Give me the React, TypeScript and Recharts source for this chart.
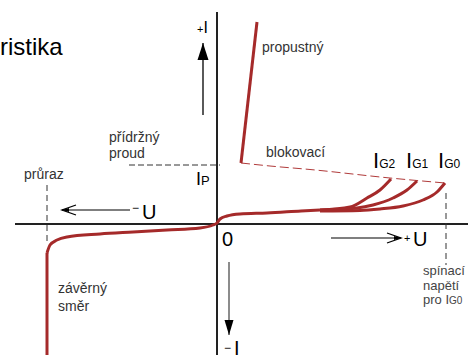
import React from "react";
import { Line, LineChart, XAxis, YAxis } from "recharts";

// U / I in arbitrary units of the schematic (thyristor V-A characteristic)
type Pt = { u: number; i: number };

const U_DOMAIN: [number, number] = [-108.5, 125.5];
const I_DOMAIN: [number, number] = [-65.5, 112];

const reverseBreakdown: Pt[] = [
  { u: -85, i: -66 },
  { u: -85, i: -14.5 },
];

const leakage: Pt[] = [
  { u: -85, i: -14.5 },
  { u: -83.5, i: -10.5 },
  { u: -80, i: -8 },
  { u: -75, i: -6.5 },
  { u: -58.5, i: -5 },
  { u: -42, i: -4 },
  { u: -25, i: -3 },
  { u: -8.5, i: -2 },
  { u: -2, i: -0.5 },
  { u: 0, i: 0.5 },
  { u: 1.5, i: 2.5 },
  { u: 5, i: 4 },
  { u: 11.5, i: 5 },
  { u: 25, i: 5.5 },
  { u: 42, i: 6.5 },
  { u: 51.5, i: 7 },
];

const gateIG2: Pt[] = [
  { u: 51.5, i: 7 },
  { u: 66.5, i: 8.5 },
  { u: 75, i: 13 },
  { u: 81.5, i: 17 },
  { u: 87, i: 22.5 },
];

const gateIG1: Pt[] = [
  { u: 51.5, i: 7 },
  { u: 70, i: 8 },
  { u: 78, i: 9.5 },
  { u: 88, i: 13 },
  { u: 95, i: 17 },
  { u: 100, i: 21.5 },
];

const gateIG0: Pt[] = [
  { u: 51.5, i: 6.5 },
  { u: 71.5, i: 6.75 },
  { u: 81.5, i: 7.5 },
  { u: 93, i: 9 },
  { u: 103, i: 12 },
  { u: 110, i: 16 },
  { u: 114, i: 20.5 },
];

const conducting: Pt[] = [
  { u: 12, i: 30.5 },
  { u: 20, i: 101 },
];

const blockingLimit: Pt[] = [
  { u: 12, i: 30.5 },
  { u: 26.5, i: 29 },
  { u: 46.5, i: 27.25 },
  { u: 86.5, i: 23 },
  { u: 114, i: 20.5 },
];

const holdingCurrent: Pt[] = [
  { u: -44, i: 29.5 },
  { u: 1.5, i: 29.5 },
];

const breakdownMark: Pt[] = [
  { u: -85, i: 19.5 },
  { u: -85, i: -10.5 },
];

const switchingMark: Pt[] = [
  { u: 114.5, i: 15.5 },
  { u: 114.5, i: -20.5 },
];

const axisU: Pt[] = [
  { u: -101, i: 0 },
  { u: 125.5, i: 0 },
];

const axisI: Pt[] = [
  { u: 0, i: -66 },
  { u: 0, i: 106 },
];

// arrows: second point is the tip
const arrowPlusI: Pt[] = [
  { u: -7, i: 54.5 },
  { u: -7, i: 90.5 },
];
const arrowMinusI: Pt[] = [
  { u: 6, i: -19 },
  { u: 6, i: -55.5 },
];
const arrowMinusU: Pt[] = [
  { u: -43.5, i: 7 },
  { u: -77.5, i: 7 },
];
const arrowPlusU: Pt[] = [
  { u: 57, i: -7 },
  { u: 92, i: -7 },
];

const RED = "#a52a2a";
const FONT = "'Liberation Sans', Arial, sans-serif";

type HeadKind = "solid" | "open";

const arrowHead = (angle: number, kind: HeadKind, color: string, len: number, half: number) =>
  (props: any) => {
    const { cx, cy, index } = props;
    if (index !== 1 || cx == null || cy == null) return <g key={`n-${index}`} />;
    return (
      <g key={`h-${index}`} transform={`translate(${cx},${cy}) rotate(${angle})`}>
        {kind === "solid" ? (
          <polygon points={`0,0 ${-len},${-half} ${-len},${half}`} fill={color} />
        ) : (
          <>
            <polyline
              points={`${-len},${-half} 0,0 ${-len},${half}`}
              fill="none"
              stroke={color}
              strokeWidth={1.3}
            />
            <polygon points={`0,0 -7,-2 -7,2`} fill={color} />
          </>
        )}
      </g>
    );
  };

function Overlay() {
  const grey = "#333";
  return (
    <svg
      width={468}
      height={355}
      style={{ position: "absolute", left: 0, top: 0, pointerEvents: "none" }}
      fontFamily={FONT}
    >
      <text x={0} y={55} fontSize={24} fill="#000">ristika</text>

      <text x={262} y={52} fontSize={14} fill={grey}>propustný</text>
      <text x={266} y={157} fontSize={14} fill={grey}>blokovací</text>
      <text x={109} y={142} fontSize={14} fill={grey}>přídržný</text>
      <text x={109} y={158} fontSize={14} fill={grey}>proud</text>
      <text x={24} y={179} fontSize={14} fill={grey}>průraz</text>
      <text x={58} y={293} fontSize={14} fill={grey}>závěrný</text>
      <text x={58} y={311} fontSize={14} fill={grey}>směr</text>

      <text x={423} y={275} fontSize={13} fill="#444">spínací</text>
      <text x={423} y={290} fontSize={13} fill="#444">napětí</text>
      <text x={423} y={304} fontSize={13} fill="#444">
        pro I<tspan fontSize={10}>G0</tspan>
      </text>

      <text x={197} y={33} fill="#000">
        <tspan fontSize={11}>+</tspan>
        <tspan fontSize={16}>I</tspan>
      </text>
      <text x={196} y={185} fontSize={18} fill="#000">
        I<tspan fontSize={13}>P</tspan>
      </text>

      <text x={132} y={212} fontSize={12} fill="#000">−</text>
      <text x={142} y={219} fontSize={20} fill="#000">U</text>

      <text x={404} y={242} fontSize={11} fill="#000">+</text>
      <text x={413} y={246} fontSize={20} fill="#000">U</text>

      <text x={222} y={246} fontSize={20} fill="#000">0</text>

      <text x={224} y={352} fontSize={12} fill="#000">−</text>
      <text x={234} y={355} fontSize={20} fill="#000">I</text>

      <text x={373} y={168} fontSize={22} fill="#000">
        I<tspan fontSize={12}>G2</tspan>
      </text>
      <text x={406} y={168} fontSize={22} fill="#000">
        I<tspan fontSize={12}>G1</tspan>
      </text>
      <text x={438} y={168} fontSize={22} fill="#000">
        I<tspan fontSize={12}>G0</tspan>
      </text>
    </svg>
  );
}

const plain = { dot: false as const, activeDot: false as const, isAnimationActive: false };

export default function App() {
  return (
    <div
      style={{
        position: "absolute",
        left: 0,
        top: 0,
        width: 468,
        height: 355,
        background: "#fff",
      }}
    >
      <LineChart width={468} height={355} margin={{ top: 0, right: 0, bottom: 0, left: 0 }}>
        <XAxis type="number" dataKey="u" domain={U_DOMAIN} allowDataOverflow hide />
        <YAxis type="number" dataKey="i" domain={I_DOMAIN} allowDataOverflow hide />

        {/* axes */}
        <Line data={axisU} dataKey="i" type="linear" stroke="#222" strokeWidth={2} {...plain} />
        <Line data={axisI} dataKey="i" type="linear" stroke="#222" strokeWidth={2} {...plain} />

        {/* dashed helper lines */}
        <Line data={holdingCurrent} dataKey="i" type="linear" stroke="#333" strokeWidth={1} strokeDasharray="6 3" {...plain} />
        <Line data={breakdownMark} dataKey="i" type="linear" stroke="#333" strokeWidth={1} strokeDasharray="6 4" {...plain} />
        <Line data={switchingMark} dataKey="i" type="linear" stroke="#333" strokeWidth={1} strokeDasharray="6 4" {...plain} />

        {/* direction arrows */}
        <Line data={arrowPlusI} dataKey="i" type="linear" stroke="#000" strokeWidth={1.3} dot={arrowHead(-90, "solid", "#000", 17, 5.5)} activeDot={false} isAnimationActive={false} />
        <Line data={arrowMinusI} dataKey="i" type="linear" stroke="#666" strokeWidth={1.5} dot={arrowHead(90, "solid", "#000", 15, 4.5)} activeDot={false} isAnimationActive={false} />
        <Line data={arrowMinusU} dataKey="i" type="linear" stroke="#000" strokeWidth={1.2} dot={arrowHead(180, "open", "#000", 14, 5)} activeDot={false} isAnimationActive={false} />
        <Line data={arrowPlusU} dataKey="i" type="linear" stroke="#000" strokeWidth={1.2} dot={arrowHead(0, "open", "#000", 14, 5)} activeDot={false} isAnimationActive={false} />

        {/* characteristic */}
        <Line data={blockingLimit} dataKey="i" type="monotone" stroke="#b03a3a" strokeWidth={1} strokeDasharray="9 4" {...plain} />
        <Line data={reverseBreakdown} dataKey="i" type="linear" stroke={RED} strokeWidth={3} {...plain} />
        <Line data={leakage} dataKey="i" type="monotone" stroke={RED} strokeWidth={3} {...plain} />
        <Line data={gateIG2} dataKey="i" type="monotone" stroke={RED} strokeWidth={3} {...plain} />
        <Line data={gateIG1} dataKey="i" type="monotone" stroke={RED} strokeWidth={3} {...plain} />
        <Line data={gateIG0} dataKey="i" type="monotone" stroke={RED} strokeWidth={3} {...plain} />
        <Line data={conducting} dataKey="i" type="linear" stroke={RED} strokeWidth={3} {...plain} />
      </LineChart>
      <Overlay />
    </div>
  );
}
